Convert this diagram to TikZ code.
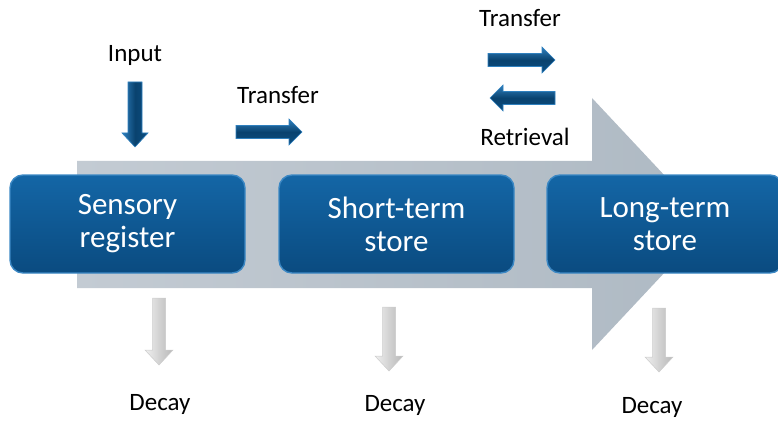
\documentclass[tikz,border=0pt]{standalone}
\usepackage{fontspec}
\setmainfont{Carlito}
\definecolor{boxtop}{HTML}{1466A6}
\definecolor{boxbot}{HTML}{0A4B80}
\definecolor{boxedge}{HTML}{3C88C4}
\definecolor{arrblue}{HTML}{0B4E82}
\definecolor{arredge}{HTML}{2F80BE}
\definecolor{greyA}{HTML}{C3CBD3}
\definecolor{greyB}{HTML}{AEB9C3}
\begin{document}
\begin{tikzpicture}[x=1pt,y=-1pt,
  stagebox/.style={rounded corners=13pt, top color=boxtop, bottom color=boxbot,
    draw=boxedge, line width=1.4pt, text=white, minimum width=235pt, minimum height=98pt,
    align=center, font=\fontsize{31}{33}\selectfont, inner sep=0pt},
  lbl/.style={font=\fontsize{25}{28}\selectfont, text=black, inner sep=0pt},
  bluehoriz/.style={top color=arredge, bottom color=arrblue, middle color=arrblue!85!black,
    draw=arredge, line width=0.6pt, line join=miter},
  bluevert/.style={left color=arredge, right color=arrblue, middle color=arrblue!85!black,
    draw=arredge, line width=0.6pt, line join=miter},
  greydown/.style={left color=gray!12, right color=gray!55, middle color=gray!35,
    draw=gray!40, line width=0.5pt, line join=miter}]
\useasboundingbox (0,0) rectangle (778,422);
% big grey arrow
\path[left color=greyA, right color=greyB]
  (77,161) -- (592,161) -- (592,98) -- (710,224) -- (592,350) -- (592,288) -- (77,288) -- cycle;
% boxes
\node[stagebox] (sr) at (127.5,224) {Sensory\\register};
\node[stagebox] (st) at (396.5,224) {Short-term\\store};
\node[stagebox, minimum width=236pt] (lt) at (665,224) {Long-term\\store};
% labels
\node[lbl] (inp) at (135,55) {Input};
\node[lbl] (tr1) at (278,95) {Transfer};
\node[lbl] (tr2) at (520,18) {Transfer};
\node[lbl] (ret) at (525,137) {Retrieval};
\node[lbl] (d1) at (160,404) {Decay};
\node[lbl] (d2) at (395,405) {Decay};
\node[lbl] (d3) at (652,407) {Decay};
% blue arrows
\path[bluevert] (128,82) -- (142,82) -- (142,133) -- (148,133) -- (135,147) -- (122,133) -- (128,133) -- cycle;
\path[bluehoriz] (236,125.5) -- (289,125.5) -- (289,119) -- (302,132) -- (289,145) -- (289,138.5) -- (236,138.5) -- cycle;
\path[bluehoriz] (488,53.5) -- (542,53.5) -- (542,47) -- (555,60) -- (542,73) -- (542,66.5) -- (488,66.5) -- cycle;
\path[bluehoriz] (555,91.5) -- (503,91.5) -- (503,85) -- (490,98) -- (503,111) -- (503,104.5) -- (555,104.5) -- cycle;
% grey decay arrows
\path[greydown] (152.5,298) -- (165.5,298) -- (165.5,350) -- (173,350) -- (159,365) -- (145,350) -- (152.5,350) -- cycle;
\path[greydown] (382.5,307) -- (395.5,307) -- (395.5,356) -- (403,356) -- (389,371) -- (375,356) -- (382.5,356) -- cycle;
\path[greydown] (652.5,308) -- (665.5,308) -- (665.5,357) -- (673,357) -- (659,372) -- (645,357) -- (652.5,357) -- cycle;
\end{tikzpicture}
\end{document}
